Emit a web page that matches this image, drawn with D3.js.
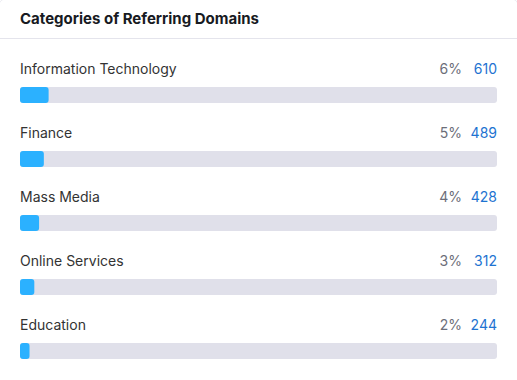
<!DOCTYPE html>
<html>
<head>
<meta charset="utf-8">
<script src="https://cdn.jsdelivr.net/npm/d3@7"></script>
<style>
  html, body { margin: 0; padding: 0; background: #fff; }
  svg { display: block; font-family: Inter, "Noto Sans", sans-serif; }
</style>
</head>
<body>
<div id="chart"></div>
<script>
// Categories of referring domains: share (%) and domain count
const categories = ["Information Technology", "Finance", "Mass Media", "Online Services", "Education"];
const shares = [6, 5, 4, 3, 2];
const counts = [610, 489, 428, 312, 244];

const W = 517, H = 380;
const left = 20, right = 497;
const rowTop = 69, rowStep = 64;

const svg = d3.select("#chart").append("svg")
  .attr("width", W).attr("height", H);

// Header (card edges only hint at the corners)
svg.append("rect")
  .attr("x", -1.5).attr("y", -1.5).attr("width", W + 3).attr("height", H + 10)
  .attr("rx", 8).attr("fill", "#fff").attr("stroke", "#ececf2");
svg.append("text")
  .attr("x", 20).attr("y", 19).attr("dy", "0.35em")
  .attr("font-size", 15).attr("font-weight", 700).attr("fill", "#171a22")
  .text("Categories of Referring Domains");
svg.append("line")
  .attr("x1", 0).attr("x2", W).attr("y1", 38.5).attr("y2", 38.5)
  .attr("stroke", "#e4e4ec");

const x = d3.scaleLinear().domain([0, 100]).range([0, right - left]);
const y = d3.scaleBand().domain(categories)
  .range([rowTop, rowTop + rowStep * categories.length]).paddingInner(0).paddingOuter(0);

const data = categories.map((c, i) => ({ name: c, share: shares[i], count: counts[i] }));

const row = svg.selectAll("g.row").data(data).join("g")
  .attr("class", "row")
  .attr("transform", d => `translate(0,${y(d.name)})`);

row.append("text")
  .attr("x", left).attr("y", 0).attr("dy", "0.35em")
  .attr("font-size", 14).attr("fill", "#333")
  .text(d => d.name);

row.append("text")
  .attr("x", right).attr("y", 0).attr("dy", "0.35em")
  .attr("text-anchor", "end")
  .attr("font-size", 14).attr("fill", "#1e73d1")
  .text(d => d.count);

row.append("text")
  .attr("x", right - 35).attr("y", 0).attr("dy", "0.35em")
  .attr("text-anchor", "end")
  .attr("font-size", 14).attr("fill", "#6c6e79")
  .text(d => d.share + "%");

row.append("rect")
  .attr("x", left).attr("y", 18).attr("width", x(100)).attr("height", 16)
  .attr("rx", 3).attr("fill", "#e0e0ea");

row.append("rect")
  .attr("x", left).attr("y", 18).attr("width", d => x(d.share)).attr("height", 16)
  .attr("rx", 3).attr("fill", "#2bb1ff");
</script>
</body>
</html>
